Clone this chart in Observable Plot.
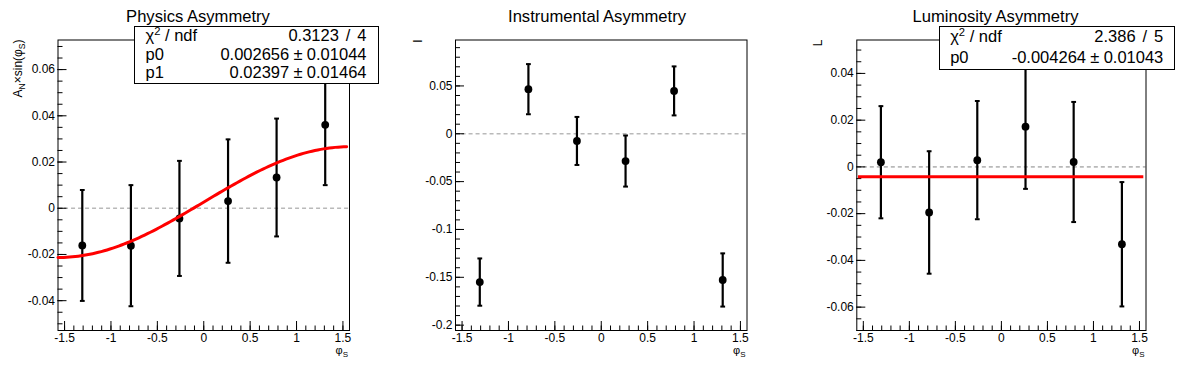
<!DOCTYPE html>
<html><head><meta charset="utf-8">
<script src="https://cdn.jsdelivr.net/npm/d3@7"></script>
<script src="https://cdn.jsdelivr.net/npm/@observablehq/plot@0.6"></script>
<style>
html,body{margin:0;padding:0;background:#fff;}
#wrap{position:relative;width:1196px;height:372px;overflow:hidden;font-family:"Liberation Sans",Arial,sans-serif;background:#fff;}
.panel{position:absolute;top:0;}
.stats{position:absolute;background:#fff;border:1px solid #000;box-sizing:border-box;font-size:16.5px;color:#000;}
.stats .rows{position:relative;top:-1px;}
.stats .row{display:flex;justify-content:space-between;white-space:nowrap;}
.stats sup{font-size:0.68em;line-height:0;vertical-align:0.5em;}
.stats .sl{margin:0 0.42em;}
.stats .pm{margin:0 0.26em;}
</style></head><body><div id="wrap"></div>
<script>
// ---- data ----
const phiS = [-1.309, -0.785, -0.262, 0.262, 0.785, 1.309];

const physY   = [-0.0161, -0.0162, -0.0044, 0.0031, 0.0133, 0.0361];
const physErr = [0.0240, 0.0262, 0.0249, 0.0267, 0.0255, 0.0261];

const instY   = [-0.1550, 0.0466, -0.0075, -0.0285, 0.0448, -0.1528];
const instErr = [0.0247, 0.0262, 0.0251, 0.0267, 0.0256, 0.0278];

const lumiY   = [0.0020, -0.0195, 0.0029, 0.0172, 0.0021, -0.0331];
const lumiErr = [0.0240, 0.0262, 0.0253, 0.0266, 0.0257, 0.0266];

// fit parameters (from the stats boxes)
const physP0 = 0.002656, physP1 = 0.02397;
const lumiP0 = -0.004264;

// axis ranges / ticks
const xDomain = [-Math.PI / 2, Math.PI / 2];
const xMajor = [-1.5, -1, -0.5, 0, 0.5, 1, 1.5];
const physYDomain = [-0.0529, 0.0728];
const instYDomain = [-0.2056, 0.0980];
const lumiYDomain = [-0.0700, 0.0543];
const physYMajor = [-0.04, -0.02, 0, 0.02, 0.04, 0.06];
const instYMajor = [-0.2, -0.15, -0.1, -0.05, 0, 0.05];
const lumiYMajor = [-0.06, -0.04, -0.02, 0, 0.02, 0.04];
const zeroLineX = [-1.5, Math.PI / 2];
const physFitRange = [-Math.PI / 2, 1.54];
const lumiFitRange = [-1.553, 1.547];

const titles = ["Physics Asymmetry", "Instrumental Asymmetry", "Luminosity Asymmetry"];
const stats1Labels = ["χ<sup>2</sup> / ndf", "p0", "p1"];
const stats1Values = [["0.3123", "/", "4"], ["0.002656", "±", "0.01044"], ["0.02397", "±", "0.01464"]];
const stats3Labels = ["χ<sup>2</sup> / ndf", "p0"];
const stats3Values = [["2.386", "/", "5"], ["-0.004264", "±", "0.01043"]];

// ---- helpers ----
function minorTicks(lo, hi, step) {
  const out = [];
  const n0 = Math.ceil(lo / step - 1e-9), n1 = Math.floor(hi / step + 1e-9);
  for (let n = n0; n <= n1; n++) out.push(+(n * step).toFixed(6));
  return out;
}
const capSymbol = {
  draw(ctx, size) { const w = Math.sqrt(size / Math.PI); ctx.moveTo(-w, 0); ctx.lineTo(w, 0); }
};
function richText(parts, attrs, subSize, shift) {
  const t = d3.create("svg:text");
  for (const [k, v] of Object.entries(attrs)) t.attr(k, v);
  let shifted = false;
  for (const [s, sub] of parts) {
    const ts = t.append("tspan").text(s);
    if (sub && !shifted) { ts.attr("font-size", subSize).attr("dy", shift); shifted = true; }
    else if (!sub && shifted) { ts.attr("dy", -shift); shifted = false; }
    else if (sub) ts.attr("font-size", subSize);
  }
  return t.node();
}

function makePanel(cfg) {
  const data = phiS.map((x, i) => ({x, y: cfg.y[i], e: cfg.err[i]}));
  const marks = [
    Plot.ruleY([0], {x1: zeroLineX[0], x2: zeroLineX[1], stroke: "#b9b9b9", strokeWidth: 1.6, strokeDasharray: "4,3"}),
    Plot.axisY({ticks: minorTicks(cfg.yDomain[0], cfg.yDomain[1], cfg.yMinorStep), tickSize: 5, dx: 5, fill: "none", stroke: "#000", label: null}),
    Plot.axisY({ticks: cfg.yMajor, tickSize: 9, dx: 9, fill: "none", stroke: "#000", label: null}),
    Plot.axisY({ticks: cfg.yMajor, tickSize: 0, tickPadding: 3, tickFormat: d => String(d), fill: "#000", label: null}),
    Plot.axisX({ticks: minorTicks(-1.5, 1.5, 0.1), tickSize: 4.5, dy: -4.5, fill: "none", stroke: "#000", label: null}),
    Plot.axisX({ticks: xMajor, tickSize: 9, dy: -9, fill: "none", stroke: "#000", label: null}),
    Plot.axisX({ticks: xMajor, tickSize: 0, tickPadding: 3, tickFormat: d => String(d), fill: "#000", label: null}),
    Plot.frame({stroke: "#000"}),
    Plot.ruleX(data, {x: "x", y1: d => d.y - d.e, y2: d => d.y + d.e, stroke: "#000", strokeWidth: 2.2}),
    Plot.dot(data, {x: "x", y: d => d.y + d.e, symbol: capSymbol, r: 2.4, stroke: "#000", strokeWidth: 2, fill: "none"}),
    Plot.dot(data, {x: "x", y: d => d.y - d.e, symbol: capSymbol, r: 2.4, stroke: "#000", strokeWidth: 2, fill: "none"}),
    Plot.dot(data, {x: "x", y: "y", r: 3.9, fill: "#000", stroke: "none"}),
    ...(cfg.fit || []),
    Plot.text([cfg.title], {frameAnchor: "top-left", dx: cfg.titleX - cfg.ml, dy: 21 - cfg.mt, textAnchor: "middle", lineAnchor: "bottom", fontSize: 16.6, fill: "#000", text: d => d}),
    (index, scales, values, dims) => richText(cfg.yTitle, {
      transform: `translate(${dims.marginLeft - cfg.yTitleOff},${dims.marginTop}) rotate(-90)`,
      "text-anchor": "end", "font-size": 12, fill: "#000"
    }, 8.5, 3),
    (index, scales, values, dims) => richText([["φ"], ["S", true]], {
      transform: `translate(${dims.width - dims.marginRight - 1},354)`,
      "text-anchor": "end", "font-size": 11, fill: "#000"
    }, 8, 3)
  ];
  const svg = Plot.plot({
    width: cfg.width, height: 372,
    marginLeft: cfg.ml, marginRight: cfg.mr, marginTop: cfg.mt, marginBottom: cfg.mb,
    x: {domain: xDomain},
    y: {domain: cfg.yDomain},
    style: {fontFamily: "'Liberation Sans', Arial, sans-serif", fontSize: "12px", background: "transparent", overflow: "visible", color: "#000"},
    marks
  });
  svg.classList.add("panel");
  svg.style.left = cfg.left + "px";
  return svg;
}

function statsBox(labels, values, box) {
  const div = document.createElement("div");
  div.className = "stats";
  Object.assign(div.style, {left: box.left + "px", top: box.top + "px", width: box.w + "px", height: box.h + "px", paddingLeft: box.pl + "px", paddingRight: box.pr + "px"});
  const rows = document.createElement("div");
  rows.className = "rows";
  const rh = (box.h - 2) / labels.length;
  labels.forEach((l, i) => {
    const [a, op, b] = values[i];
    const r = document.createElement("div");
    r.className = "row";
    r.style.height = rh + "px";
    r.style.lineHeight = rh + "px";
    r.innerHTML = `<span>${l}</span><span>${a}<span class="${op === "/" ? "sl" : "pm"}">${op}</span>${b}</span>`;
    rows.appendChild(r);
  });
  div.appendChild(rows);
  return div;
}

const wrap = document.getElementById("wrap");
const physFitX = d3.range(101).map(i => physFitRange[0] + (physFitRange[1] - physFitRange[0]) * i / 100);

wrap.appendChild(makePanel({
  left: 0, width: 399, ml: 57.5, mr: 50, mt: 39.5, mb: 42,
  y: physY, err: physErr, yDomain: physYDomain, yMajor: physYMajor, yMinorStep: 0.005,
  title: titles[0], titleX: 197.5, yTitleOff: 36,
  yTitle: [["A"], ["N", true], ["×sin(φ"], ["S", true], [")"]],
  fit: [Plot.line(physFitX, {x: d => d, y: d => physP0 + physP1 * Math.sin(d), stroke: "#ff0000", strokeWidth: 3})]
}));
wrap.appendChild(makePanel({
  left: 399, width: 399, ml: 56, mr: 51.5, mt: 39.5, mb: 42,
  y: instY, err: instErr, yDomain: instYDomain, yMajor: instYMajor, yMinorStep: 0.01,
  title: titles[1], titleX: 197.5, yTitleOff: 33,
  yTitle: [["I"]]
}));
wrap.appendChild(makePanel({
  left: 798, width: 398, ml: 58.3, mr: 50.5, mt: 39.5, mb: 42,
  y: lumiY, err: lumiErr, yDomain: lumiYDomain, yMajor: lumiYMajor, yMinorStep: 0.005,
  title: titles[2], titleX: 197, yTitleOff: 34,
  yTitle: [["L"]],
  fit: [Plot.ruleY([lumiP0], {x1: lumiFitRange[0], x2: lumiFitRange[1], stroke: "#ff0000", strokeWidth: 3})]
}));

wrap.appendChild(statsBox(stats1Labels, stats1Values, {left: 133.5, top: 26, w: 245, h: 58, pl: 11, pr: 11}));
wrap.appendChild(statsBox(stats3Labels, stats3Values, {left: 938.7, top: 26, w: 236.6, h: 44.3, pl: 10.5, pr: 11}));
</script></body></html>
